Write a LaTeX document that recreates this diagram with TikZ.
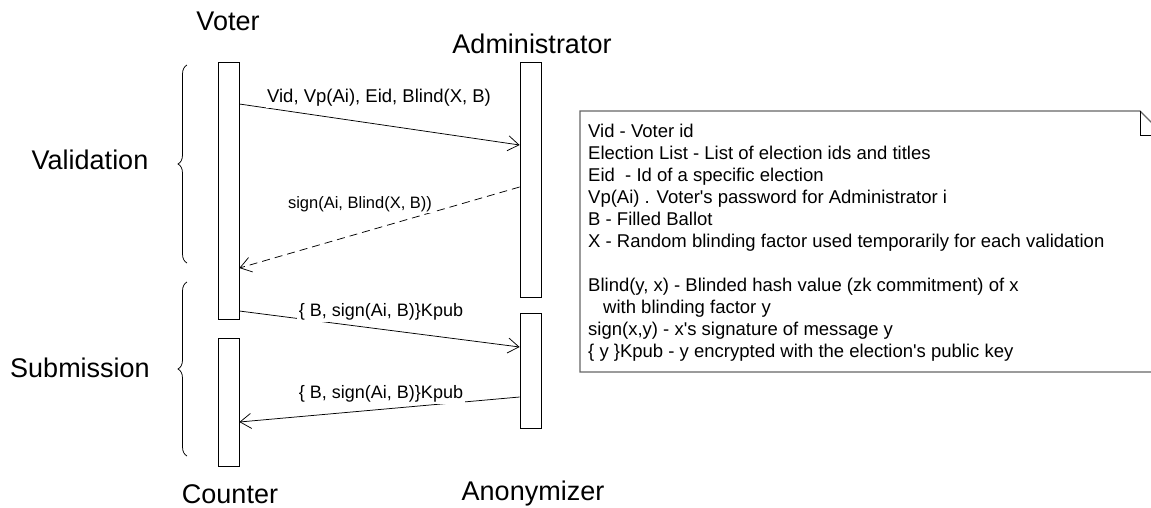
\documentclass[tikz,border=0pt]{standalone}
\usepackage{fontspec}
\setmainfont{Liberation Sans}[Ligatures=TeXOff]
\usetikzlibrary{arrows.meta,decorations.pathreplacing}
\begin{document}
\begin{tikzpicture}[x=1pt,y=-1pt,
  lifebox/.style={draw,line width=0.8pt,minimum width=21pt,inner sep=0pt,anchor=north},
  title/.style={font=\fontsize{27}{31}\selectfont,inner sep=0pt},
  phase/.style={font=\fontsize{27}{31}\selectfont,inner sep=0pt},
  msg/.style={line width=0.75pt,-{Straight Barb[length=11pt,width=15pt]}},
  reply/.style={msg,dash pattern=on 8pt off 5pt},
  lbl/.style={font=\fontsize{18}{20}\selectfont,fill=white,inner sep=1.5pt},
  grp/.style={line width=0.75pt,decorate,decoration={brace,amplitude=9pt}},
  notebox/.style={draw=black!60,line width=1.2pt},
  notetext/.style={font=\fontsize{18.5}{22}\selectfont,align=left,anchor=north west,inner sep=0pt}]
\useasboundingbox (0,0) rectangle (1151,507);
\clip (0,0) rectangle (1151,507);

% lifelines
\node[lifebox,minimum height=257pt] (voter) at (228.5,62) {};
\node[lifebox,minimum height=128pt] (counter) at (228.5,338) {};
\node[lifebox,minimum height=235pt] (admin) at (530.5,62) {};
\node[lifebox,minimum height=115pt] (anon) at (530.5,313) {};

% titles
\node[title] (tvoter) at (228,21) {Voter};
\node[title] (tadmin) at (532,44) {Administrator};
\node[title] (tcounter) at (230,494) {Counter};
\node[title] (tanon) at (533,494) {Anonymizer};

% phases
\node[phase] (tval) at (90,160) {Validation};
\node[phase] (tsub) at (80,368) {Submission};
\coordinate (v1) at (187,263);
\coordinate (v2) at (187,65);
\coordinate (s1) at (187,456);
\coordinate (s2) at (187,282);
\draw[grp] (v1) -- (v2);
\draw[grp] (s1) -- (s2);

% messages
\draw[msg] (voter.east |- 0,104) -- (admin.west |- 0,145);
\node[lbl,font=\fontsize{18.5}{20}\selectfont] (m1) at (379,98) {Vid, Vp(Ai), Eid, Blind(X, B)};
\draw[reply] (admin.west |- 0,187) -- (voter.east |- 0,268);
\node[lbl,font=\fontsize{16.5}{19}\selectfont] (m2) at (360,204) {sign(Ai, Blind(X, B))};
\draw[msg] (voter.east |- 0,311) -- (anon.west |- 0,347);
\node[lbl] (m3) at (381,312) {\{ B, sign(Ai, B)\}Kpub};
\draw[msg] (anon.west |- 0,397) -- (counter.east |- 0,422);
\node[lbl] (m4) at (381,394) {\{ B, sign(Ai, B)\}Kpub};

% note
\draw[notebox] (580,111) -- (1140,111) -- (1164,135) -- (1164,372) -- (580,372) -- cycle;
\draw[line width=0.8pt] (1140,111) -- (1140,135) -- (1164,135);
\node[notetext] (note) at (588,124) {Vid - Voter id\\
Election List - List of election ids and titles\\
Eid \ - Id of a specific election\\
Vp(Ai) . Voter's password for Administrator i\\
B - Filled Ballot\\
X - Random blinding factor used temporarily for each validation\\
\mbox{}\\
Blind(y, x) - Blinded hash value (zk commitment) of x\\
\hspace*{15pt}with blinding factor y\\
sign(x,y) - x's signature of message y\\
\{ y \}Kpub - y encrypted with the election's public key};
\end{tikzpicture}
\end{document}
